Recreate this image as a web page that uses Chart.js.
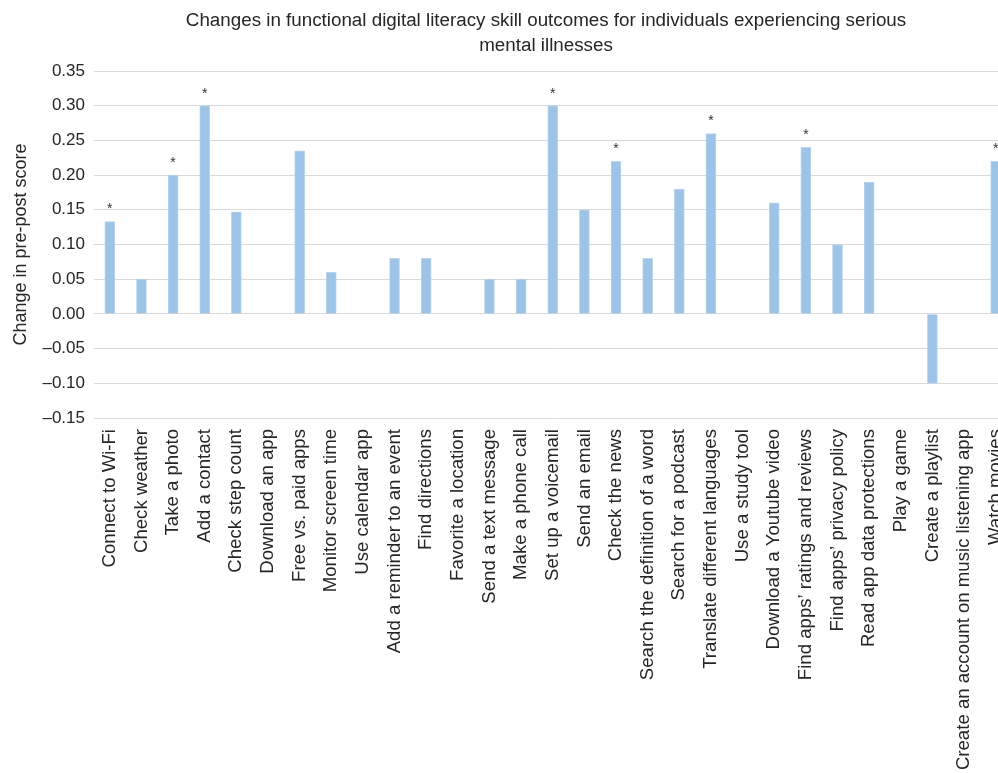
<!DOCTYPE html>
<html>
<head>
<meta charset="utf-8">
<script src="https://cdn.jsdelivr.net/npm/chart.js@4/dist/chart.umd.min.js"></script>
<style>
  html, body { margin: 0; padding: 0; background: #fff; overflow: hidden; }
  #wrap { width: 1021px; height: 773px; }
</style>
</head>
<body>
<div id="wrap"><canvas id="chart" width="1021" height="773"></canvas></div>
<script>
const titleLines = [
    'Changes in functional digital literacy skill outcomes for individuals experiencing serious',
    'mental illnesses'
];

const skills = [
    'Connect to Wi-Fi', 'Check weather', 'Take a photo', 'Add a contact', 'Check step count',
    'Download an app', 'Free vs. paid apps', 'Monitor screen time', 'Use calendar app',
    'Add a reminder to an event', 'Find directions', 'Favorite a location', 'Send a text message',
    'Make a phone call', 'Set up a voicemail', 'Send an email', 'Check the news',
    'Search the definition of a word', 'Search for a podcast', 'Translate different languages',
    'Use a study tool', 'Download a Youtube video', 'Find apps\u2019 ratings and reviews',
    'Find apps\u2019 privacy policy', 'Read app data protections', 'Play a game',
    'Create a playlist', 'Create an account on music listening app', 'Watch movies'
];

const changeScores = [
    0.133, 0.05, 0.20, 0.30, 0.147,
    0, 0.235, 0.06, 0,
    0.08, 0.08, 0, 0.05,
    0.05, 0.30, 0.15, 0.22,
    0.08, 0.18, 0.26,
    0, 0.16, 0.24,
    0.10, 0.19, 0,
    -0.10, 0, 0.22
];

const significant = [
    true, false, true, true, false,
    false, false, false, false,
    false, false, false, false,
    false, true, false, true,
    false, false, true,
    false, false, true,
    false, false, false,
    false, false, true
];

const yMin = -0.15;
const yMax = 0.35;
const yStep = 0.05;

const fontFamily = '"Liberation Sans", Arial, Helvetica, sans-serif';
const textColor = '#262626';

// title + asterisks drawn on the canvas
const extras = {
    id: 'extras',
    afterDraw(chart) {
        const ctx = chart.ctx;
        ctx.save();
        ctx.fillStyle = textColor;
        ctx.textAlign = 'center';
        ctx.textBaseline = 'middle';
        ctx.font = '18.8px ' + fontFamily;
        titleLines.forEach((line, i) => {
            ctx.fillText(line, 546, 21 + i * 25);
        });

        const meta = chart.getDatasetMeta(0);
        ctx.fillStyle = '#333';
        ctx.font = '14px ' + fontFamily;
        ctx.textBaseline = 'middle';
        meta.data.forEach((bar, i) => {
            if (!significant[i]) return;
            ctx.fillText('*', bar.x, bar.y - 12);
        });
        ctx.restore();
    }
};

const ctx = document.getElementById('chart').getContext('2d');
new Chart(ctx, {
    type: 'bar',
    data: {
        labels: skills,
        datasets: [{
            data: changeScores,
            backgroundColor: '#9dc3e6',
            borderColor: '#b9d5ef',
            borderWidth: 1,
            barThickness: 10
        }]
    },
    options: {
        responsive: false,
        animation: false,
        layout: { padding: { top: 71, right: 0, left: 0, bottom: 0 } },
        plugins: {
            legend: { display: false },
            tooltip: { enabled: false }
        },
        scales: {
            x: {
                offset: true,
                grid: { display: false },
                border: { display: false },
                ticks: {
                    autoSkip: false,
                    minRotation: 90,
                    maxRotation: 90,
                    padding: 3,
                    color: textColor,
                    font: { family: fontFamily, size: 18.6 }
                },
                afterFit(scale) { scale.height = 773 - 418; }
            },
            y: {
                min: yMin,
                max: yMax,
                grid: { color: '#d9d9d9', drawTicks: false },
                border: { display: false },
                ticks: {
                    stepSize: yStep,
                    padding: 9,
                    color: textColor,
                    font: { family: fontFamily, size: 17 },
                    callback: v => (v < -1e-9 ? '\u2013' + Math.abs(v).toFixed(2) : Math.abs(v).toFixed(2))
                },
                title: {
                    display: true,
                    text: 'Change in pre-post score',
                    color: textColor,
                    padding: { top: 10, bottom: 0 },
                    font: { family: fontFamily, size: 18 }
                },
                afterFit(scale) { scale.width = 94; }
            }
        }
    },
    plugins: [extras]
});
</script>
</body>
</html>
